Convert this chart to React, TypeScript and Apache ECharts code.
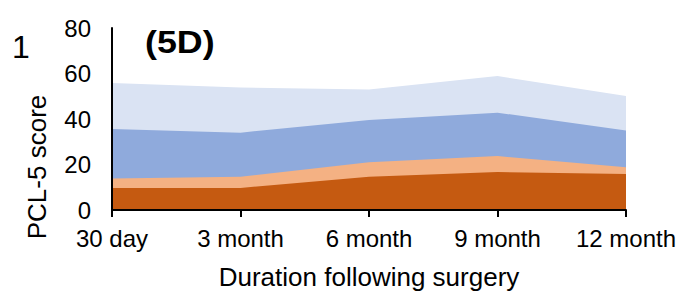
import React, { useEffect, useRef } from "react";
import * as echarts from "echarts";

const categories = ["30 day", "3 month", "6 month", "9 month", "12 month"];
const seriesTop = [55.8, 53.8, 53, 58.9, 50.1];
const seriesUpper = [35.6, 34, 39.6, 42.8, 34.9];
const seriesLower = [13.8, 14.6, 21, 23.7, 18.8];
const seriesBottom = [9.7, 9.7, 14.6, 16.7, 15.8];
const yTicks = [0, 20, 40, 60, 80];

const FONT = "Liberation Sans";

export default function App() {
  const ref = useRef<HTMLDivElement>(null);
  useEffect(() => {
    if (!ref.current) return;
    const chart = echarts.init(ref.current, undefined, { renderer: "svg" });
    const mk = (name: string, data: number[], color: string) => ({
      name,
      type: "line",
      data,
      symbol: "none",
      lineStyle: { width: 0 },
      areaStyle: { color, opacity: 1 },
      itemStyle: { color },
      z: 2,
    });
    chart.setOption({
      animation: false,
      textStyle: { fontFamily: FONT },
      grid: { left: 112, right: 58, top: 28, bottom: 92, containLabel: false },
      graphic: [
        {
          type: "text",
          x: 12,
          y: 47,
          style: { text: "1", font: `32px ${FONT}`, fill: "#000", verticalAlign: "middle", align: "left" },
        },
        {
          type: "text",
          x: 145,
          y: 42,
          scaleX: 1.12,
          style: { text: "(5D)", font: `bold 32px ${FONT}`, fill: "#000", verticalAlign: "middle", align: "left" },
        },
        {
          type: "text",
          x: 37,
          y: 167,
          rotation: Math.PI / 2,
          style: { text: "PCL-5 score", font: `26px ${FONT}`, fill: "#000", verticalAlign: "middle", align: "center" },
        },
      ],
      xAxis: {
        type: "category",
        data: categories,
        boundaryGap: false,
        name: "Duration following surgery",
        nameLocation: "middle",
        nameGap: 54,
        nameTextStyle: { fontSize: 26, color: "#000", fontFamily: FONT },
        axisLine: { lineStyle: { color: "#000", width: 2 } },
        axisTick: { show: true, interval: 0, length: 7, lineStyle: { color: "#000", width: 2 } },
        axisLabel: { interval: 0, hideOverlap: false, fontSize: 24, color: "#000", margin: 16, fontFamily: FONT },
        splitLine: { show: false },
        z: 5,
      },
      yAxis: {
        type: "value",
        min: 0,
        max: 80,
        interval: 20,
        axisLine: { show: true, lineStyle: { color: "#000", width: 2 } },
        axisTick: { show: false },
        axisLabel: {
          fontSize: 24,
          color: "#000",
          margin: 21,
          fontFamily: FONT,
          formatter: (v: number) => (yTicks.includes(v) ? String(v) : ""),
        },
        splitLine: { show: false },
        z: 5,
      },
      series: [
        mk("Top", seriesTop, "#dae3f3"),
        mk("Upper", seriesUpper, "#8faadc"),
        mk("Lower", seriesLower, "#f4b183"),
        mk("Bottom", seriesBottom, "#c55a11"),
      ],
    });
    return () => chart.dispose();
  }, []);
  return (
    <div
      ref={ref}
      style={{ position: "fixed", left: 0, top: 0, width: 684, height: 302, background: "#fff" }}
    />
  );
}
